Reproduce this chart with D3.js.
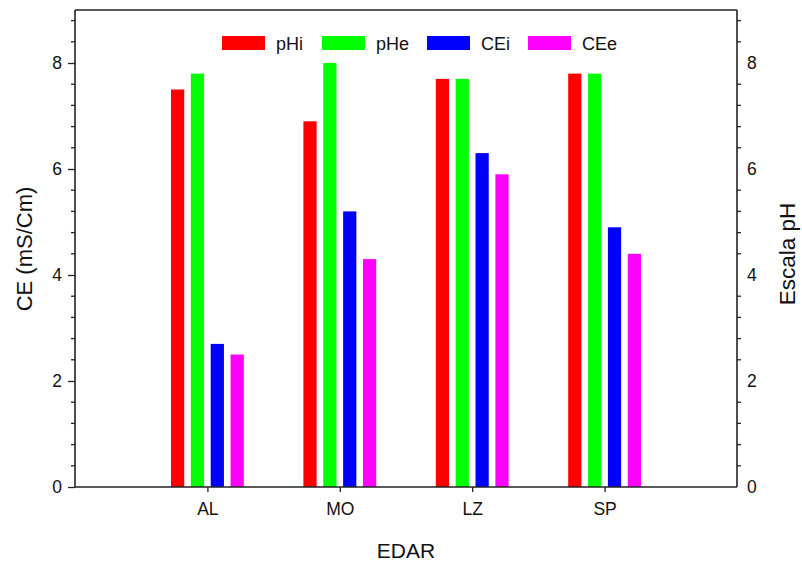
<!DOCTYPE html>
<html>
<head>
<meta charset="utf-8">
<script src="https://cdn.jsdelivr.net/npm/d3@7"></script>
<style>
  body { margin: 0; background: #fff; }
  svg text { font-family: Arial, "Liberation Sans", sans-serif; fill: #111; }
</style>
</head>
<body>
<svg id="chart" width="802" height="562"></svg>
<script>
// stations and measured values
var stations = ["AL", "MO", "LZ", "SP"];
var seriesNames = ["pHi", "pHe", "CEi", "CEe"];
var seriesColors = ["#ff0000", "#00ff00", "#0000ff", "#ff00ff"];
var pHi = [7.5, 6.9, 7.7, 7.8];
var pHe = [7.8, 8.0, 7.7, 7.8];
var CEi = [2.7, 5.2, 6.3, 4.9];
var CEe = [2.5, 4.3, 5.9, 4.4];
var yTicks = [0, 2, 4, 6, 8];

var series = [pHi, pHe, CEi, CEe];

var svg = d3.select("#chart");
var plotL = 75, plotR = 737, plotT = 10, plotB = 487;

var x = d3.scaleLinear().domain([0, 5]).range([plotL, plotR]);
var y = d3.scaleLinear().domain([0, 9]).range([plotB, plotT]);

var barW = 0.1, barStep = 0.15;

// bars
series.forEach(function(vals, si) {
  svg.selectAll("rect.s" + si)
    .data(vals)
    .enter().append("rect")
    .attr("class", "s" + si)
    .attr("x", (d, i) => x(i + 1 + (si - 1.5) * barStep - barW / 2))
    .attr("width", x(barW) - x(0))
    .attr("y", d => y(d))
    .attr("height", d => y(0) - y(d))
    .attr("fill", seriesColors[si]);
});

var minor = d3.range(0, 9.01, 0.4).map(d => +d.toFixed(1));
var minorOnly = minor.filter(d => d > 0 && Math.round(d * 10) % 20 !== 0);

// left axis
var leftAxis = d3.axisLeft(y).tickValues(yTicks).tickSize(7).tickPadding(6).tickFormat(d3.format("d"));
var gl = svg.append("g").attr("transform", "translate(" + plotL + ",0)").call(leftAxis);
gl.append("g").selectAll("line").data(minorOnly)
  .enter().append("line").attr("x1", 0).attr("x2", -4).attr("y1", d => y(d)).attr("y2", d => y(d))
  .attr("stroke", "#222").attr("stroke-width", 1.3);

// right axis
var rightAxis = d3.axisRight(y).tickValues(yTicks).tickSize(0).tickPadding(10).tickFormat(d3.format("d"));
var gr = svg.append("g").attr("transform", "translate(" + plotR + ",0)").call(rightAxis);
gr.append("g").selectAll("line").data(minorOnly)
  .enter().append("line").attr("x1", 0).attr("x2", 4).attr("y1", d => y(d)).attr("y2", d => y(d))
  .attr("stroke", "#222").attr("stroke-width", 1.3);

// bottom axis
var bottomAxis = d3.axisBottom(x).tickValues([1, 2, 3, 4]).tickSize(5).tickPadding(11)
  .tickFormat(d => stations[d - 1]);
var gb = svg.append("g").attr("transform", "translate(0," + plotB + ")").call(bottomAxis);

[gl, gr, gb].forEach(function(g) {
  g.select(".domain").attr("stroke", "#222").attr("stroke-width", 1.6);
  g.selectAll(".tick line").attr("stroke", "#222").attr("stroke-width", 1.3);
  g.selectAll(".tick text").attr("font-size", 17.5).attr("fill", "#111")
    .attr("font-family", "Arial, 'Liberation Sans', sans-serif");
});
gl.select(".domain").attr("d", "M0," + plotB + "V" + plotT);
gr.select(".domain").attr("d", "M0," + plotB + "V" + plotT);
gb.select(".domain").attr("d", "M" + plotL + ",0H" + plotR);

// top frame line
svg.append("line").attr("x1", plotL).attr("x2", plotR).attr("y1", plotT).attr("y2", plotT)
  .attr("stroke", "#222").attr("stroke-width", 1.6);

// axis titles
svg.append("text").attr("transform", "translate(32,249) rotate(-90)")
  .attr("text-anchor", "middle").attr("font-size", 22).text("CE (mS/Cm)");
svg.append("text").attr("transform", "translate(795,254) rotate(-90)")
  .attr("text-anchor", "middle").attr("font-size", 22.5).text("Escala pH");
svg.append("text").attr("x", 406).attr("y", 558)
  .attr("text-anchor", "middle").attr("font-size", 21).text("EDAR");

// legend
var legX = [222, 322, 427, 528];
var leg = svg.append("g").selectAll("g").data(seriesNames).enter().append("g")
  .attr("transform", (d, i) => "translate(" + legX[i] + ",36)");
leg.append("rect").attr("width", 43).attr("height", 14).attr("fill", (d, i) => seriesColors[i]);
leg.append("text").attr("x", 54).attr("y", 13.5).attr("font-size", 18).text(d => d);
</script>
</body>
</html>
